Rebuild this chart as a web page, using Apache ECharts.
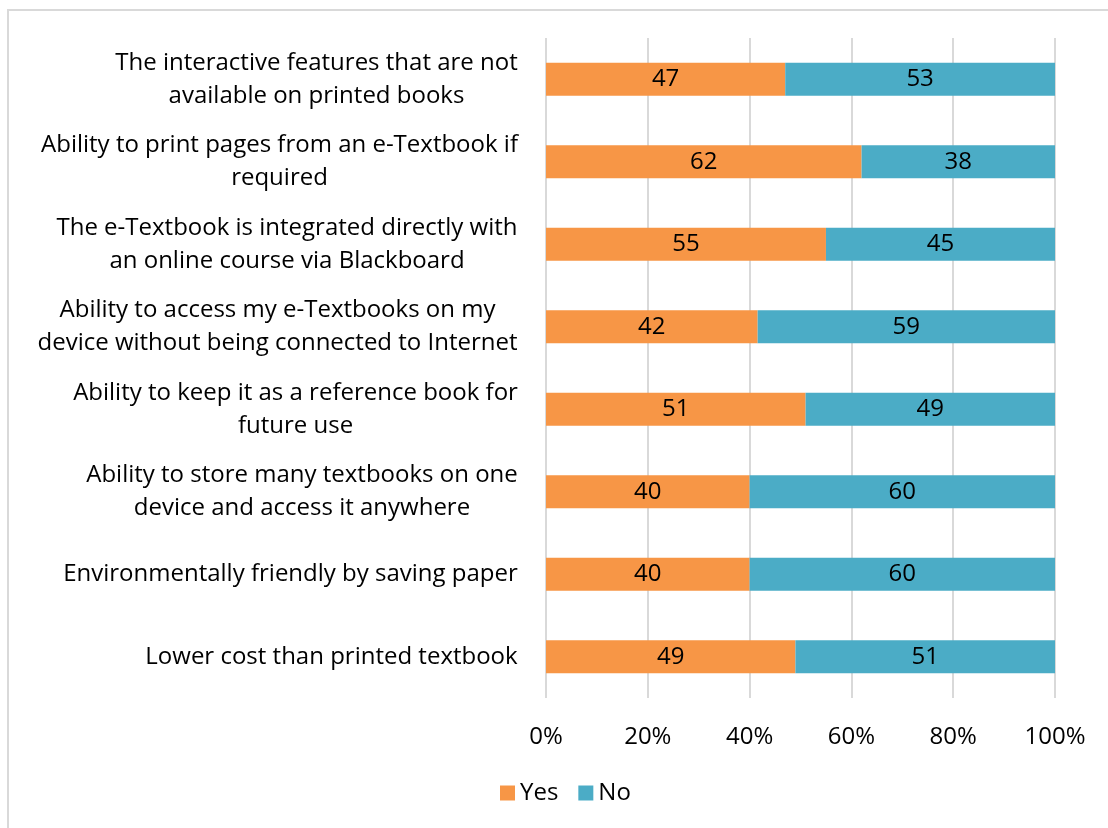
<!DOCTYPE html>
<html lang="en">
<head>
    <meta charset="UTF-8">
    <script src="https://cdn.jsdelivr.net/npm/echarts@6/dist/echarts.min.js"></script>
    <title>e-Textbook features</title>
    <style>
        html, body { margin: 0; padding: 0; background: #fff; }
        #frame {
            position: absolute;
            left: 7px;
            top: 9px;
            width: 1200px;
            height: 900px;
            border-left: 2px solid #d9d9d9;
            border-top: 2px solid #d9d9d9;
        }
        #main { position: absolute; left: 0; top: 0; width: 1108px; height: 828px; }
    </style>
</head>
<body>
<div id="frame"></div>
<div id="main"></div>

<script>
    var categories = [
        'The interactive features that are not\navailable on printed books',
        'Ability to print pages from an e-Textbook if\nrequired',
        'The e-Textbook is integrated directly with\nan online course via Blackboard',
        'Ability to access my e-Textbooks on my\ndevice without being connected to Internet',
        'Ability to keep it as a reference book for\nfuture use',
        'Ability to store many textbooks on one\ndevice and access it anywhere',
        'Environmentally friendly by saving paper',
        'Lower cost than printed textbook'
    ]
    var yes = [47, 62, 55, 42, 51, 40, 40, 49]
    var no = [53, 38, 45, 59, 49, 60, 60, 51]
    var tickLabels = ['0%', '20%', '40%', '60%', '80%', '100%']

    // 100% stacked: bar length is the share of the row total
    function share(arr, i) {
        return arr[i] / (yes[i] + no[i]) * 100
    }
    var yesPct = yes.map(function (v, i) { return share(yes, i) })
    var noPct = no.map(function (v, i) { return share(no, i) })

    var font = '"Open Sans", "Noto Sans", sans-serif'
    var fs = 24

    // centre the lines of each wrapped label inside its own block (like Excel)
    var ctx = document.createElement('canvas').getContext('2d')
    ctx.font = fs + 'px ' + font
    var rich = {}
    categories.forEach(function (c, i) {
        var w = 0
        c.split('\n').forEach(function (l) { w = Math.max(w, ctx.measureText(l).width) })
        rich['r' + i] = { width: Math.ceil(w) + 2, align: 'center', fontSize: fs, lineHeight: 33, color: '#000', fontFamily: font }
    })

    var myChart = echarts.init(document.getElementById('main'))

    var option = {
        animation: false,
        textStyle: { fontFamily: font },
        legend: {
            bottom: 18,
            left: 495,
            itemWidth: 15,
            itemHeight: 15,
            itemGap: 20,
            icon: 'rect',
            textStyle: { fontSize: fs, color: '#000', fontFamily: font },
            data: ['Yes', 'No']
        },
        grid: {
            left: 546,
            right: 53,
            top: 38,
            bottom: 130
        },
        xAxis: {
            type: 'value',
            min: 0,
            max: 100,
            interval: 20,
            axisLine: { show: false },
            axisTick: { show: false },
            splitLine: { lineStyle: { color: '#d9d9d9', width: 2 } },
            axisLabel: {
                margin: 27,
                fontSize: fs,
                color: '#000',
                fontFamily: font,
                formatter: function (v) { return tickLabels[v / 20] }
            }
        },
        yAxis: {
            type: 'category',
            data: categories,
            inverse: true,
            axisLine: { show: false },
            axisTick: { show: false },
            axisLabel: {
                margin: 27,
                fontSize: fs,
                lineHeight: 33,
                color: '#000',
                align: 'right',
                fontFamily: font,
                formatter: function (v, i) {
                    return v.split('\n').map(function (l) { return '{r' + i + '|' + l + '}' }).join('\n')
                },
                rich: rich
            }
        },
        series: [
            {
                name: 'Yes',
                type: 'bar',
                stack: 'total',
                barWidth: '40%',
                itemStyle: { color: '#F79646' },
                label: {
                    show: true,
                    position: 'inside',
                    fontSize: fs,
                    color: '#000',
                    fontFamily: font,
                    formatter: function (p) { return yes[p.dataIndex] }
                },
                data: yesPct
            },
            {
                name: 'No',
                type: 'bar',
                stack: 'total',
                barWidth: '40%',
                itemStyle: { color: '#4BACC6' },
                label: {
                    show: true,
                    position: 'inside',
                    fontSize: fs,
                    color: '#000',
                    fontFamily: font,
                    formatter: function (p) { return no[p.dataIndex] }
                },
                data: noPct
            }
        ]
    }

    myChart.setOption(option)
</script>
</body>
</html>
